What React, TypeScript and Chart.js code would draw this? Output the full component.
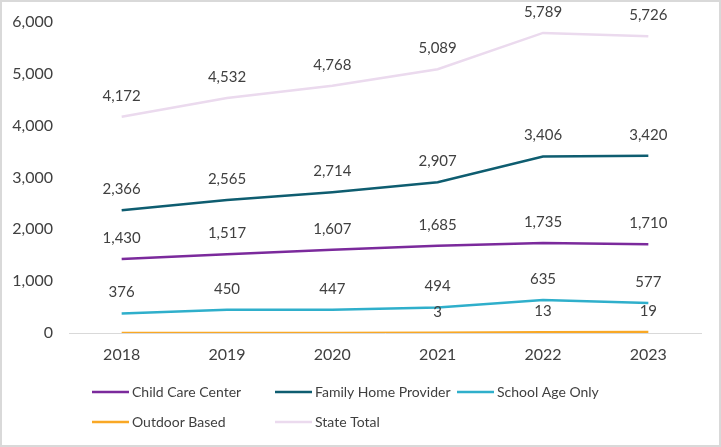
import React, { useEffect, useRef } from "react";
import { Chart, registerables } from "chart.js";

Chart.register(...registerables);

const years = ["2018", "2019", "2020", "2021", "2022", "2023"];
const childCareCenter = [1430, 1517, 1607, 1685, 1735, 1710];
const familyHomeProvider = [2366, 2565, 2714, 2907, 3406, 3420];
const schoolAgeOnly = [376, 450, 447, 494, 635, 577];
const outdoorBased = [0, 0, 0, 3, 13, 19];
const stateTotal = [4172, 4532, 4768, 5089, 5789, 5726];
const seriesNames = ["Child Care Center", "Family Home Provider", "School Age Only", "Outdoor Based", "State Total"];
const seriesColors = ["#7B2A9C", "#0E5D70", "#2FAFCB", "#F9A825", "#EBDAEE"];
const yMin = 0;
const yMax = 6000;
const yStep = 1000;

const FONT = "Lato, 'Open Sans', sans-serif";
const TEXT = "#404040";

const fmt = (v: number) => v.toLocaleString("en-US");

const dataLabels = {
  id: "dataLabels",
  afterDatasetsDraw(chart: any) {
    const ctx = chart.ctx;
    ctx.save();
    ctx.font = `15px ${FONT}`;
    ctx.fillStyle = TEXT;
    ctx.textAlign = "center";
    ctx.textBaseline = "middle";
    chart.data.datasets.forEach((ds: any, i: number) => {
      const meta = chart.getDatasetMeta(i);
      meta.data.forEach((pt: any, j: number) => {
        const v = ds.data[j];
        if (v === 0 || v == null) return;
        ctx.fillText(fmt(v), pt.x, pt.y - 21);
      });
    });
    ctx.restore();
  },
};

const frameAndLegend = {
  id: "frameAndLegend",
  beforeDraw(chart: any) {
    const ctx = chart.ctx;
    ctx.save();
    ctx.fillStyle = "#ffffff";
    ctx.fillRect(0, 0, chart.width, chart.height);
    ctx.restore();
  },
  afterDraw(chart: any) {
    const ctx = chart.ctx;
    ctx.save();
    ctx.strokeStyle = "#D9D9D9";
    ctx.lineWidth = 2;
    ctx.strokeRect(1, 1, chart.width - 2, chart.height - 2);
    const cols = [92, 275, 457];
    const rows = [392, 422];
    ctx.font = `14px ${FONT}`;
    ctx.textBaseline = "middle";
    ctx.textAlign = "left";
    chart.data.datasets.forEach((ds: any, i: number) => {
      const x = cols[i % 3];
      const y = rows[Math.floor(i / 3)];
      ctx.strokeStyle = ds.borderColor;
      ctx.lineWidth = 2.5;
      ctx.beginPath();
      ctx.moveTo(x, y);
      ctx.lineTo(x + 37, y);
      ctx.stroke();
      ctx.fillStyle = TEXT;
      ctx.fillText(ds.label, x + 40, y);
    });
    ctx.restore();
  },
};

export default function App() {
  const ref = useRef<HTMLCanvasElement | null>(null);
  useEffect(() => {
    if (!ref.current) return;
    const values = [childCareCenter, familyHomeProvider, schoolAgeOnly, outdoorBased, stateTotal];
    const chart = new Chart(ref.current, {
      type: "line",
      data: {
        labels: years,
        datasets: values.map((d, i) => ({
          label: seriesNames[i],
          data: d,
          borderColor: seriesColors[i],
          backgroundColor: seriesColors[i],
          borderWidth: 2.5,
          pointRadius: 0,
          tension: 0,
          fill: false,
        })),
      },
      options: {
        responsive: false,
        animation: false,
        layout: { padding: { top: 22, right: 20, bottom: 84, left: 8 } },
        plugins: { legend: { display: false }, tooltip: { enabled: false } },
        scales: {
          x: {
            offset: true,
            grid: { display: false, drawTicks: false },
            border: { display: true, color: "#D9D9D9", width: 1 },
            ticks: { color: TEXT, font: { family: FONT, size: 16 }, padding: 12 },
            afterFit: (s: any) => { s.height = 30; },
          },
          y: {
            min: yMin,
            max: yMax,
            grid: { display: false, drawTicks: false },
            border: { display: false },
            ticks: {
              stepSize: yStep,
              color: TEXT,
              font: { family: FONT, size: 16 },
              padding: 16,
              callback: (v: any) => fmt(Number(v)),
            },
            afterFit: (s: any) => { s.width = 61; s.paddingTop = 0; s.paddingBottom = 0; },
          },
        },
      },
      plugins: [dataLabels, frameAndLegend],
    });
    return () => chart.destroy();
  }, []);
  return (
    <div style={{ position: "fixed", left: 0, top: 0, width: 721, height: 447 }}>
      <canvas ref={ref} width={721} height={447} style={{ display: "block" }} />
    </div>
  );
}
